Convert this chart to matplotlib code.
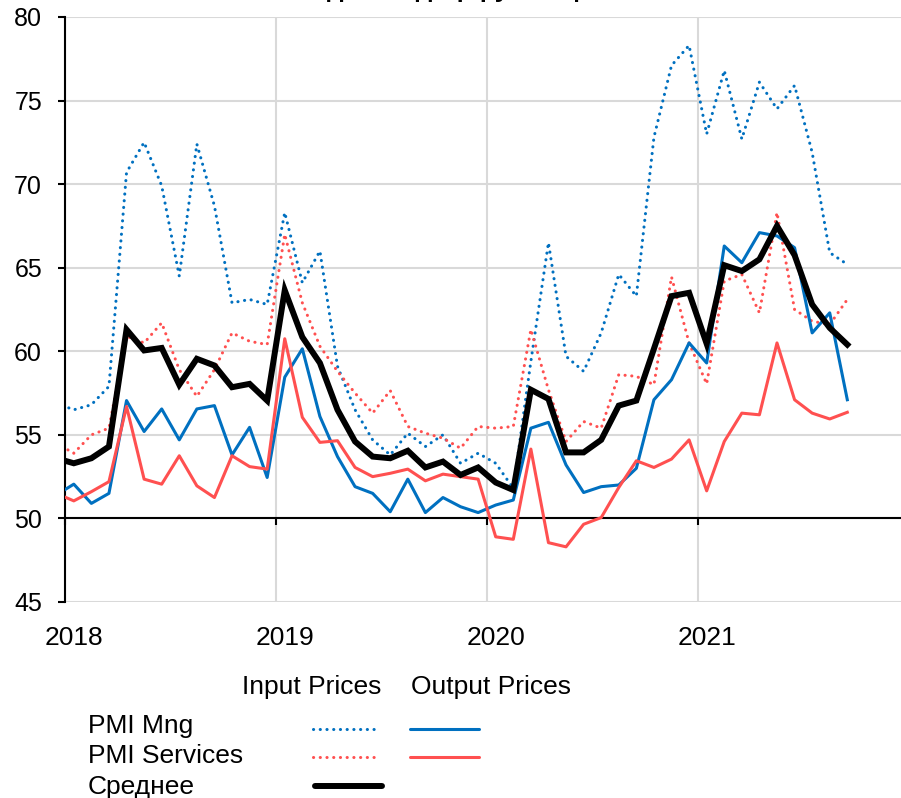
import numpy as np
import pandas as pd
import matplotlib
matplotlib.use("Agg")
import matplotlib.pyplot as plt
import matplotlib.ticker as mticker
from matplotlib.lines import Line2D
from matplotlib.transforms import blended_transform_factory

plt.rcParams['font.family'] = ['Liberation Sans', 'DejaVu Sans']

# monthly data, Dec 2017 .. Sep 2021 (Dec 2017 is clipped by the axis)
months = pd.period_range('2017-12', '2021-09', freq='M')

mng_input = [56.9,
             56.5, 56.8, 57.9, 70.7, 72.5, 69.9, 64.5, 72.4, 68.7, 62.9, 63.1, 62.8,
             68.3, 64.1, 66.0, 59.1, 56.5, 54.7, 53.8, 55.1, 54.3, 55.0, 53.3, 53.9,
             53.3, 51.8, 59.4, 66.5, 59.7, 58.8, 61.1, 64.6, 63.3, 72.8, 77.1, 78.3,
             73.0, 76.8, 72.7, 76.1, 74.5, 75.9, 71.9, 65.9, 65.2]
mng_output = [51.4,
              52.05, 50.9, 51.5, 57.05, 55.2, 56.55, 54.7, 56.55, 56.75, 53.8, 55.45, 52.45,
              58.45, 60.15, 56.1, 53.7, 51.9, 51.5, 50.4, 52.35, 50.35, 51.25, 50.7, 50.35,
              50.8, 51.1, 55.4, 55.75, 53.2, 51.55, 51.9, 52.0, 53.0, 57.1, 58.3, 60.5,
              59.3, 66.3, 65.3, 67.1, 66.9, 66.2, 61.1, 62.3, 57.1]
svc_input = [54.5,
             53.9, 55.0, 55.4, 60.9, 60.5, 61.7, 58.9, 57.3, 58.9, 61.1, 60.6, 60.4,
             67.0, 62.9, 60.3, 58.8, 57.5, 56.3, 57.65, 55.5, 55.1, 54.8, 54.2, 55.5,
             55.4, 55.5, 61.3, 57.7, 54.6, 55.8, 55.4, 58.6, 58.5, 58.0, 64.45, 60.5,
             58.05, 64.2, 64.6, 62.3, 68.3, 62.5, 61.8, 61.6, 63.1]
svc_output = [51.5,
              51.05, 51.6, 52.2, 56.7, 52.35, 52.05, 53.75, 51.95, 51.25, 53.75, 53.1, 52.95,
              60.75, 56.05, 54.55, 54.65, 53.05, 52.5, 52.7, 52.95, 52.25, 52.65, 52.5, 52.35,
              48.9, 48.75, 54.15, 48.55, 48.3, 49.65, 50.05, 51.85, 53.45, 53.05, 53.55, 54.7,
              51.65, 54.6, 56.3, 56.2, 60.5, 57.1, 56.3, 55.95, 56.35]
average = [53.6,
           53.3, 53.6, 54.3, 61.3, 60.05, 60.2, 58.0, 59.55, 59.15, 57.85, 58.05, 57.05,
           63.65, 60.85, 59.3, 56.5, 54.6, 53.7, 53.6, 54.05, 53.05, 53.4, 52.6, 53.05,
           52.15, 51.7, 57.7, 57.15, 53.95, 53.95, 54.7, 56.75, 57.05, 60.15, 63.3, 63.5,
           60.45, 65.15, 64.8, 65.5, 67.5, 65.75, 62.8, 61.4, 60.4]

years = [2018, 2019, 2020, 2021]
title = 'Индексы диффузии цен'
col_labels = ['Input Prices', 'Output Prices']
row_labels = ['PMI Mng', 'PMI Services', 'Среднее']

BLUE = '#0070C0'
RED = '#FF5050'
GRID = '#D9D9D9'
DOT = (0, (0.05, 2.15))

W, H = 901, 798
fig = plt.figure(figsize=(W / 100, H / 100), dpi=100)
ax = fig.add_axes([65 / W, 1 - 602 / H, (W - 65) / W, (602 - 17) / H])

# month index, points at mid-month, 0 = 1 Jan 2018
x = (months.year - 2018) * 12 + months.month - 1 + 0.5

ax.plot(x, mng_input, color=BLUE, lw=2.2, ls=DOT, dash_capstyle='round', zorder=3)
ax.plot(x, svc_input, color=RED, lw=2.2, ls=DOT, dash_capstyle='round', zorder=3)
ax.plot(x, mng_output, color=BLUE, lw=2.2, zorder=4)
ax.plot(x, svc_output, color=RED, lw=2.2, zorder=4)
ax.plot(x, average, color='black', lw=4.3, zorder=5, solid_joinstyle='miter')

ax.set_xlim(0, (W - 65) / 17.58)
ax.set_ylim(45, 80)

ax.yaxis.set_major_locator(mticker.MultipleLocator(5))
ax.set_xticks([(y - 2018) * 12 for y in years])

for s in ['top', 'right']:
    ax.spines[s].set_visible(False)
ax.spines['left'].set_linewidth(1.5)
ax.spines['bottom'].set_position(('data', 50))
ax.spines['bottom'].set_linewidth(1.5)

ax.set_axisbelow(True)
ax.grid(True, color=GRID, lw=1.5)
ax.tick_params(axis='y', direction='out', length=5, width=1.5, labelsize=18, pad=11.5)
ax.tick_params(axis='x', direction='out', length=5, width=1.5, labelbottom=False)

# year labels under the plot, centered on January
tr = blended_transform_factory(ax.transData, ax.transAxes)
for y in years:
    ax.text((y - 2018) * 12 + 0.5, (602 - 645) / 585, str(y), transform=tr,
            ha='center', va='baseline', fontsize=19)

# clipped title at the very top
fig.text(0.5, 1 + 3 / H, title, ha='center', va='baseline', fontsize=19, fontweight='bold')

# table-like legend
def fx(p):
    return p / W

def fy(p):
    return 1 - p / H

fig.text(fx(312), fy(694), col_labels[0], ha='center', va='baseline', fontsize=19)
fig.text(fx(491), fy(694), col_labels[1], ha='center', va='baseline', fontsize=19)
for lab, base in zip(row_labels, [733, 763, 794]):
    fig.text(fx(88), fy(base), lab, ha='left', va='baseline', fontsize=19)

legend_lines = [
    ([313, 379], 729, BLUE, 2.2, DOT),
    ([410, 479], 729, BLUE, 2.2, '-'),
    ([313, 379], 757, RED, 2.2, DOT),
    ([410, 479], 757, RED, 2.2, '-'),
    ([315, 382], 786, 'black', 4.3, '-'),
]
for xs, yp, c, lw, ls in legend_lines:
    fig.add_artist(Line2D([fx(xs[0]), fx(xs[1])], [fy(yp), fy(yp)], color=c, lw=lw, ls=ls,
                          dash_capstyle='round', solid_capstyle='round',
                          transform=fig.transFigure))

fig.savefig('out.png', dpi=100)
